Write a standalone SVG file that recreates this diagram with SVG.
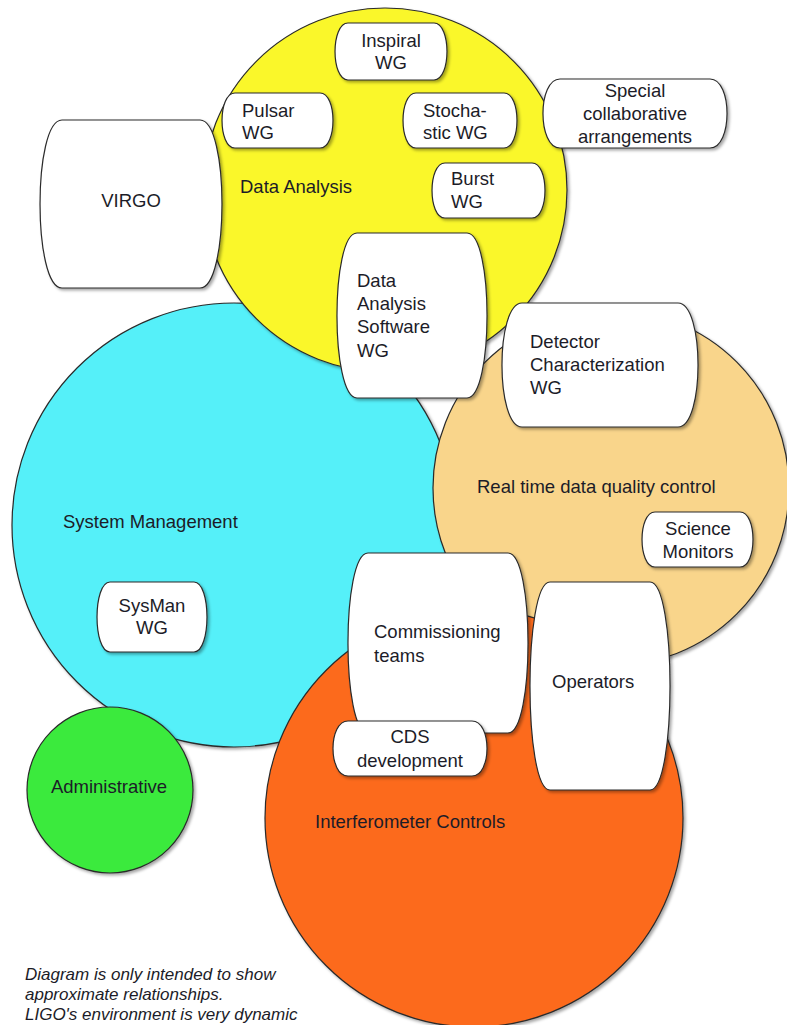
<svg xmlns="http://www.w3.org/2000/svg" width="787" height="1025" viewBox="0 0 787 1025">
<defs>
<filter id="sh" x="-10%" y="-10%" width="125%" height="125%">
<feDropShadow dx="2" dy="2" stdDeviation="1.5" flood-color="#000" flood-opacity="0.35"/>
</filter>
<style>
.c{stroke:#2a2a2a;stroke-width:1.2;filter:url(#sh)}
.b{fill:#fff;stroke:#2a2a2a;stroke-width:1.2;filter:url(#sh)}
text{font-family:"Liberation Sans",Arial,sans-serif;font-size:18.5px;fill:#1c1c28}
.m{text-anchor:middle}
.n{font-size:17px;font-style:italic}
</style>
</defs>
<rect width="787" height="1025" fill="#fff"/>
<g id="system-management"><circle class="c" cx="234" cy="525" r="222" fill="#55F0F9"/><text x="63" y="528">System Management</text></g>
<g id="data-analysis"><circle class="c" cx="385" cy="190" r="182" fill="#FAF72C"/><text x="240" y="193">Data Analysis</text></g>
<g id="real-time"><circle class="c" cx="611" cy="488" r="178" fill="#F9D58B"/><text x="477" y="493">Real time data quality control</text></g>
<g id="interferometer-controls"><circle class="c" cx="474" cy="818" r="209" fill="#FC6A1E"/><text x="315" y="828">Interferometer Controls</text></g>
<g id="administrative"><circle class="c" cx="110" cy="790" r="83" fill="#3BEA3E"/><text x="109" y="793" class="m">Administrative</text></g>
<g id="connectors"></g>
<g id="inspiral"><path class="b" d="M348,23 H434 C451.3,23 451.3,80 434,80 H348 C330.7,80 330.7,23 348,23Z"/><text x="391" y="47" class="m">Inspiral</text><text x="391" y="69" class="m">WG</text></g>
<g id="pulsar"><path class="b" d="M235,93 H320 C337.3,93 337.3,148 320,148 H235 C217.7,148 217.7,93 235,93Z"/><text x="242" y="117">Pulsar</text><text x="242" y="139">WG</text></g>
<g id="stochastic"><path class="b" d="M416,93 H504 C521.3,93 521.3,148 504,148 H416 C398.7,148 398.7,93 416,93Z"/><text x="423" y="117">Stocha-</text><text x="423" y="139">stic WG</text></g>
<g id="special"><path class="b" d="M560,79 H710 C732.7,79 732.7,148 710,148 H560 C537.3,148 537.3,79 560,79Z"/><text x="635" y="97" class="m">Special</text><text x="635" y="120" class="m">collaborative</text><text x="635" y="143" class="m">arrangements</text></g>
<g id="burst"><path class="b" d="M445,163 H532 C549.3,163 549.3,218 532,218 H445 C427.7,218 427.7,163 445,163Z"/><text x="451" y="185">Burst</text><text x="451" y="208">WG</text></g>
<g id="virgo"><path class="b" d="M62,120 H200 C229.3,120 229.3,288 200,288 H62 C32.7,288 32.7,120 62,120Z"/><text x="131" y="207" class="m">VIRGO</text></g>
<g id="das-wg"><path class="b" d="M357,233 H467 C493.7,233 493.7,398 467,398 H357 C330.3,398 330.3,233 357,233Z"/><text x="357" y="287">Data</text><text x="357" y="310">Analysis</text><text x="357" y="333">Software</text><text x="357" y="357">WG</text></g>
<g id="detchar"><path class="b" d="M522,303 H678 C704.7,303 704.7,427 678,427 H522 C495.3,427 495.3,303 522,303Z"/><text x="530" y="348">Detector</text><text x="530" y="371">Characterization</text><text x="530" y="394">WG</text></g>
<g id="science-monitors"><path class="b" d="M655,512 H740 C757.3,512 757.3,567 740,567 H655 C637.7,567 637.7,512 655,512Z"/><text x="698" y="535" class="m">Science</text><text x="698" y="558" class="m">Monitors</text></g>
<g id="sysman"><path class="b" d="M110,582 H194 C211.3,582 211.3,652 194,652 H110 C92.7,652 92.7,582 110,582Z"/><text x="152" y="612" class="m">SysMan</text><text x="152" y="634" class="m">WG</text></g>
<g id="commissioning"><path class="b" d="M368,553 H508 C534.7,553 534.7,733 508,733 H368 C341.3,733 341.3,553 368,553Z"/><text x="374" y="638">Commissioning</text><text x="374" y="662">teams</text></g>
<g id="operators"><path class="b" d="M550,582 H650 C676.7,582 676.7,790 650,790 H550 C523.3,790 523.3,582 550,582Z"/><text x="552" y="688">Operators</text></g>
<g id="cds"><path class="b" d="M348,721 H472 C492,721 492,776 472,776 H348 C328,776 328,721 348,721Z"/><text x="410" y="743" class="m">CDS</text><text x="410" y="767" class="m">development</text></g>
<g id="note"><text x="25" y="980" class="n">Diagram is only intended to show</text><text x="25" y="1000" class="n">approximate relationships.</text><text x="25" y="1020" class="n">LIGO's environment is very dynamic</text></g>
</svg>
